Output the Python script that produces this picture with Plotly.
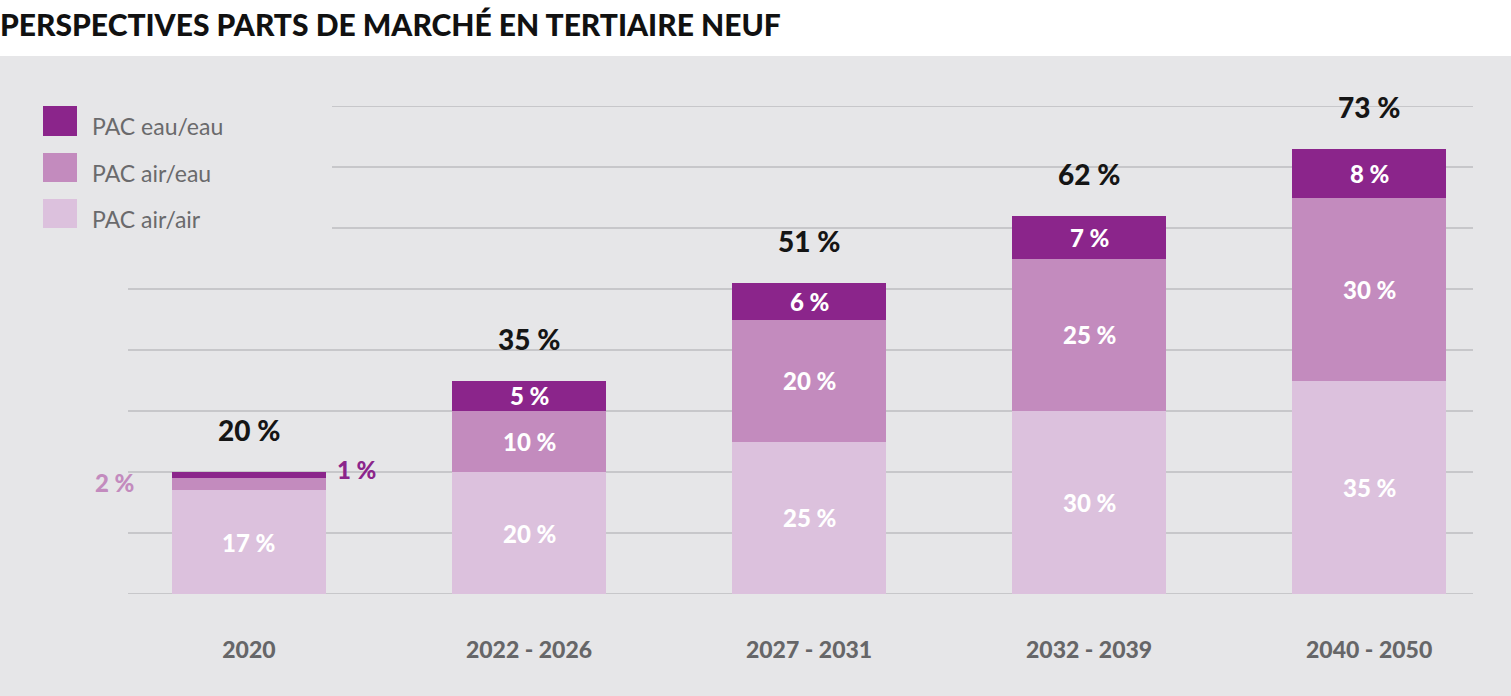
import plotly.graph_objects as go

# ---------------- data ----------------
categories = ["2020", "2022 - 2026", "2027 - 2031", "2032 - 2039", "2040 - 2050"]
pac_air_air = [17, 20, 25, 30, 35]
pac_air_eau = [2, 10, 20, 25, 30]
pac_eau_eau = [1, 5, 6, 7, 8]
totals = [20, 35, 51, 62, 73]
series_names = ["PAC air/air", "PAC air/eau", "PAC eau/eau"]
gridline_values = [0, 10, 20, 30, 40, 50, 60, 70, 80]

# ---------------- style ----------------
W, H = 1511, 696
L, R, T, B = 128, 38, 106, 102
PW, PH = W - L - R, H - T - B
C_DARK = "#8B258B"
C_MED = "#C38BBE"
C_LIGHT = "#DCC1DD"
BG = "#E6E6E8"
GRID = "#BDBDC0"
FONT = "Lato"


def px_x(px):
    return (px - L) / PW


def px_y(py):
    return (H - B - py) / PH


fig = go.Figure()
series = [(series_names[0], pac_air_air, C_LIGHT),
          (series_names[1], pac_air_eau, C_MED),
          (series_names[2], pac_eau_eau, C_DARK)]
for name, vals, col in series:
    fig.add_trace(go.Bar(
        x=categories, y=vals, name=name, width=0.55,
        marker=dict(color=col, line=dict(width=0)),
        showlegend=False, hoverinfo="x+y+name",
    ))

shapes = []
# white title band
shapes.append(dict(type="rect", xref="paper", yref="paper",
                   x0=px_x(-5), x1=px_x(W + 5), y0=px_y(56), y1=px_y(-5),
                   fillcolor="white", line=dict(width=0), layer="below"))
# gridlines
for g in gridline_values:
    shapes.append(dict(type="line", xref="paper", yref="y",
                       x0=0 if g <= 50 else px_x(332), x1=1, y0=g, y1=g,
                       line=dict(color=GRID, width=1.5), layer="below"))
# legend squares
legend_items = [(series_names[2], C_DARK, 106, 136),
                (series_names[1], C_MED, 153, 182),
                (series_names[0], C_LIGHT, 199, 228)]
annotations = []
for name, col, y0, y1 in legend_items:
    shapes.append(dict(type="rect", xref="paper", yref="paper",
                       x0=px_x(43), x1=px_x(77), y0=px_y(y1), y1=px_y(y0),
                       fillcolor=col, line=dict(width=0)))
    annotations.append(dict(xref="paper", yref="paper", x=px_x(90), y=px_y((y0 + y1) / 2 + 5),
                            text=name, showarrow=False, xanchor="left", yanchor="middle",
                            font=dict(family=FONT, size=23, color="#6A6A6C")))

# value labels inside segments (x given as category index)
for i, cat in enumerate(categories):
    base = 0
    for j, (name, vals, col) in enumerate(series):
        v = vals[i]
        if v >= 5:
            annotations.append(dict(x=i, y=base + v / 2, xref="x", yref="y",
                                    text=f"{v} %", showarrow=False,
                                    font=dict(family=FONT, size=24, color="white", weight=900)))
        base += v
    annotations.append(dict(x=i, y=totals[i], xref="x", yref="y", yshift=42,
                            text=f"{totals[i]} %", showarrow=False,
                            font=dict(family=FONT, size=28, color="#151515", weight=900)))

# small 2020 segments labelled outside
annotations.append(dict(x=0, y=pac_air_air[0] + pac_air_eau[0] / 2, xref="x", yref="y",
                        xshift=-134, yshift=2, text=f"{pac_air_eau[0]} %", showarrow=False,
                        font=dict(family=FONT, size=24, color=C_MED, weight=900)))
annotations.append(dict(x=0, y=pac_air_air[0] + pac_air_eau[0] + pac_eau_eau[0] / 2,
                        xref="x", yref="y", xshift=108, yshift=6,
                        text=f"{pac_eau_eau[0]} %", showarrow=False,
                        font=dict(family=FONT, size=24, color=C_DARK, weight=900)))

fig.update_layout(
    width=W, height=H,
    margin=dict(l=L, r=R, t=T, b=B, pad=0),
    barmode="stack",
    paper_bgcolor=BG, plot_bgcolor=BG,
    title=dict(text="PERSPECTIVES PARTS DE MARCHÉ EN TERTIAIRE NEUF",
               x=0.0, xref="container", xanchor="left",
               y=1 - 25 / H, yref="container", yanchor="middle",
               font=dict(family=FONT, size=30, color="#111111", weight=900)),
    xaxis=dict(type="category", range=[-0.432, 4.371], showgrid=False, zeroline=False,
               showline=False, ticks="", ticklabelstandoff=40,
               tickfont=dict(family=FONT, size=23, color="#666668", weight=900)),
    yaxis=dict(range=[0, 80], showgrid=False, zeroline=False, showline=False,
               showticklabels=False),
    shapes=shapes,
    annotations=annotations,
    showlegend=False,
)

fig.write_html("out.html",
               config={"displayModeBar": False},
               post_script="document.body.style.margin='0';document.body.style.overflow='hidden';")
